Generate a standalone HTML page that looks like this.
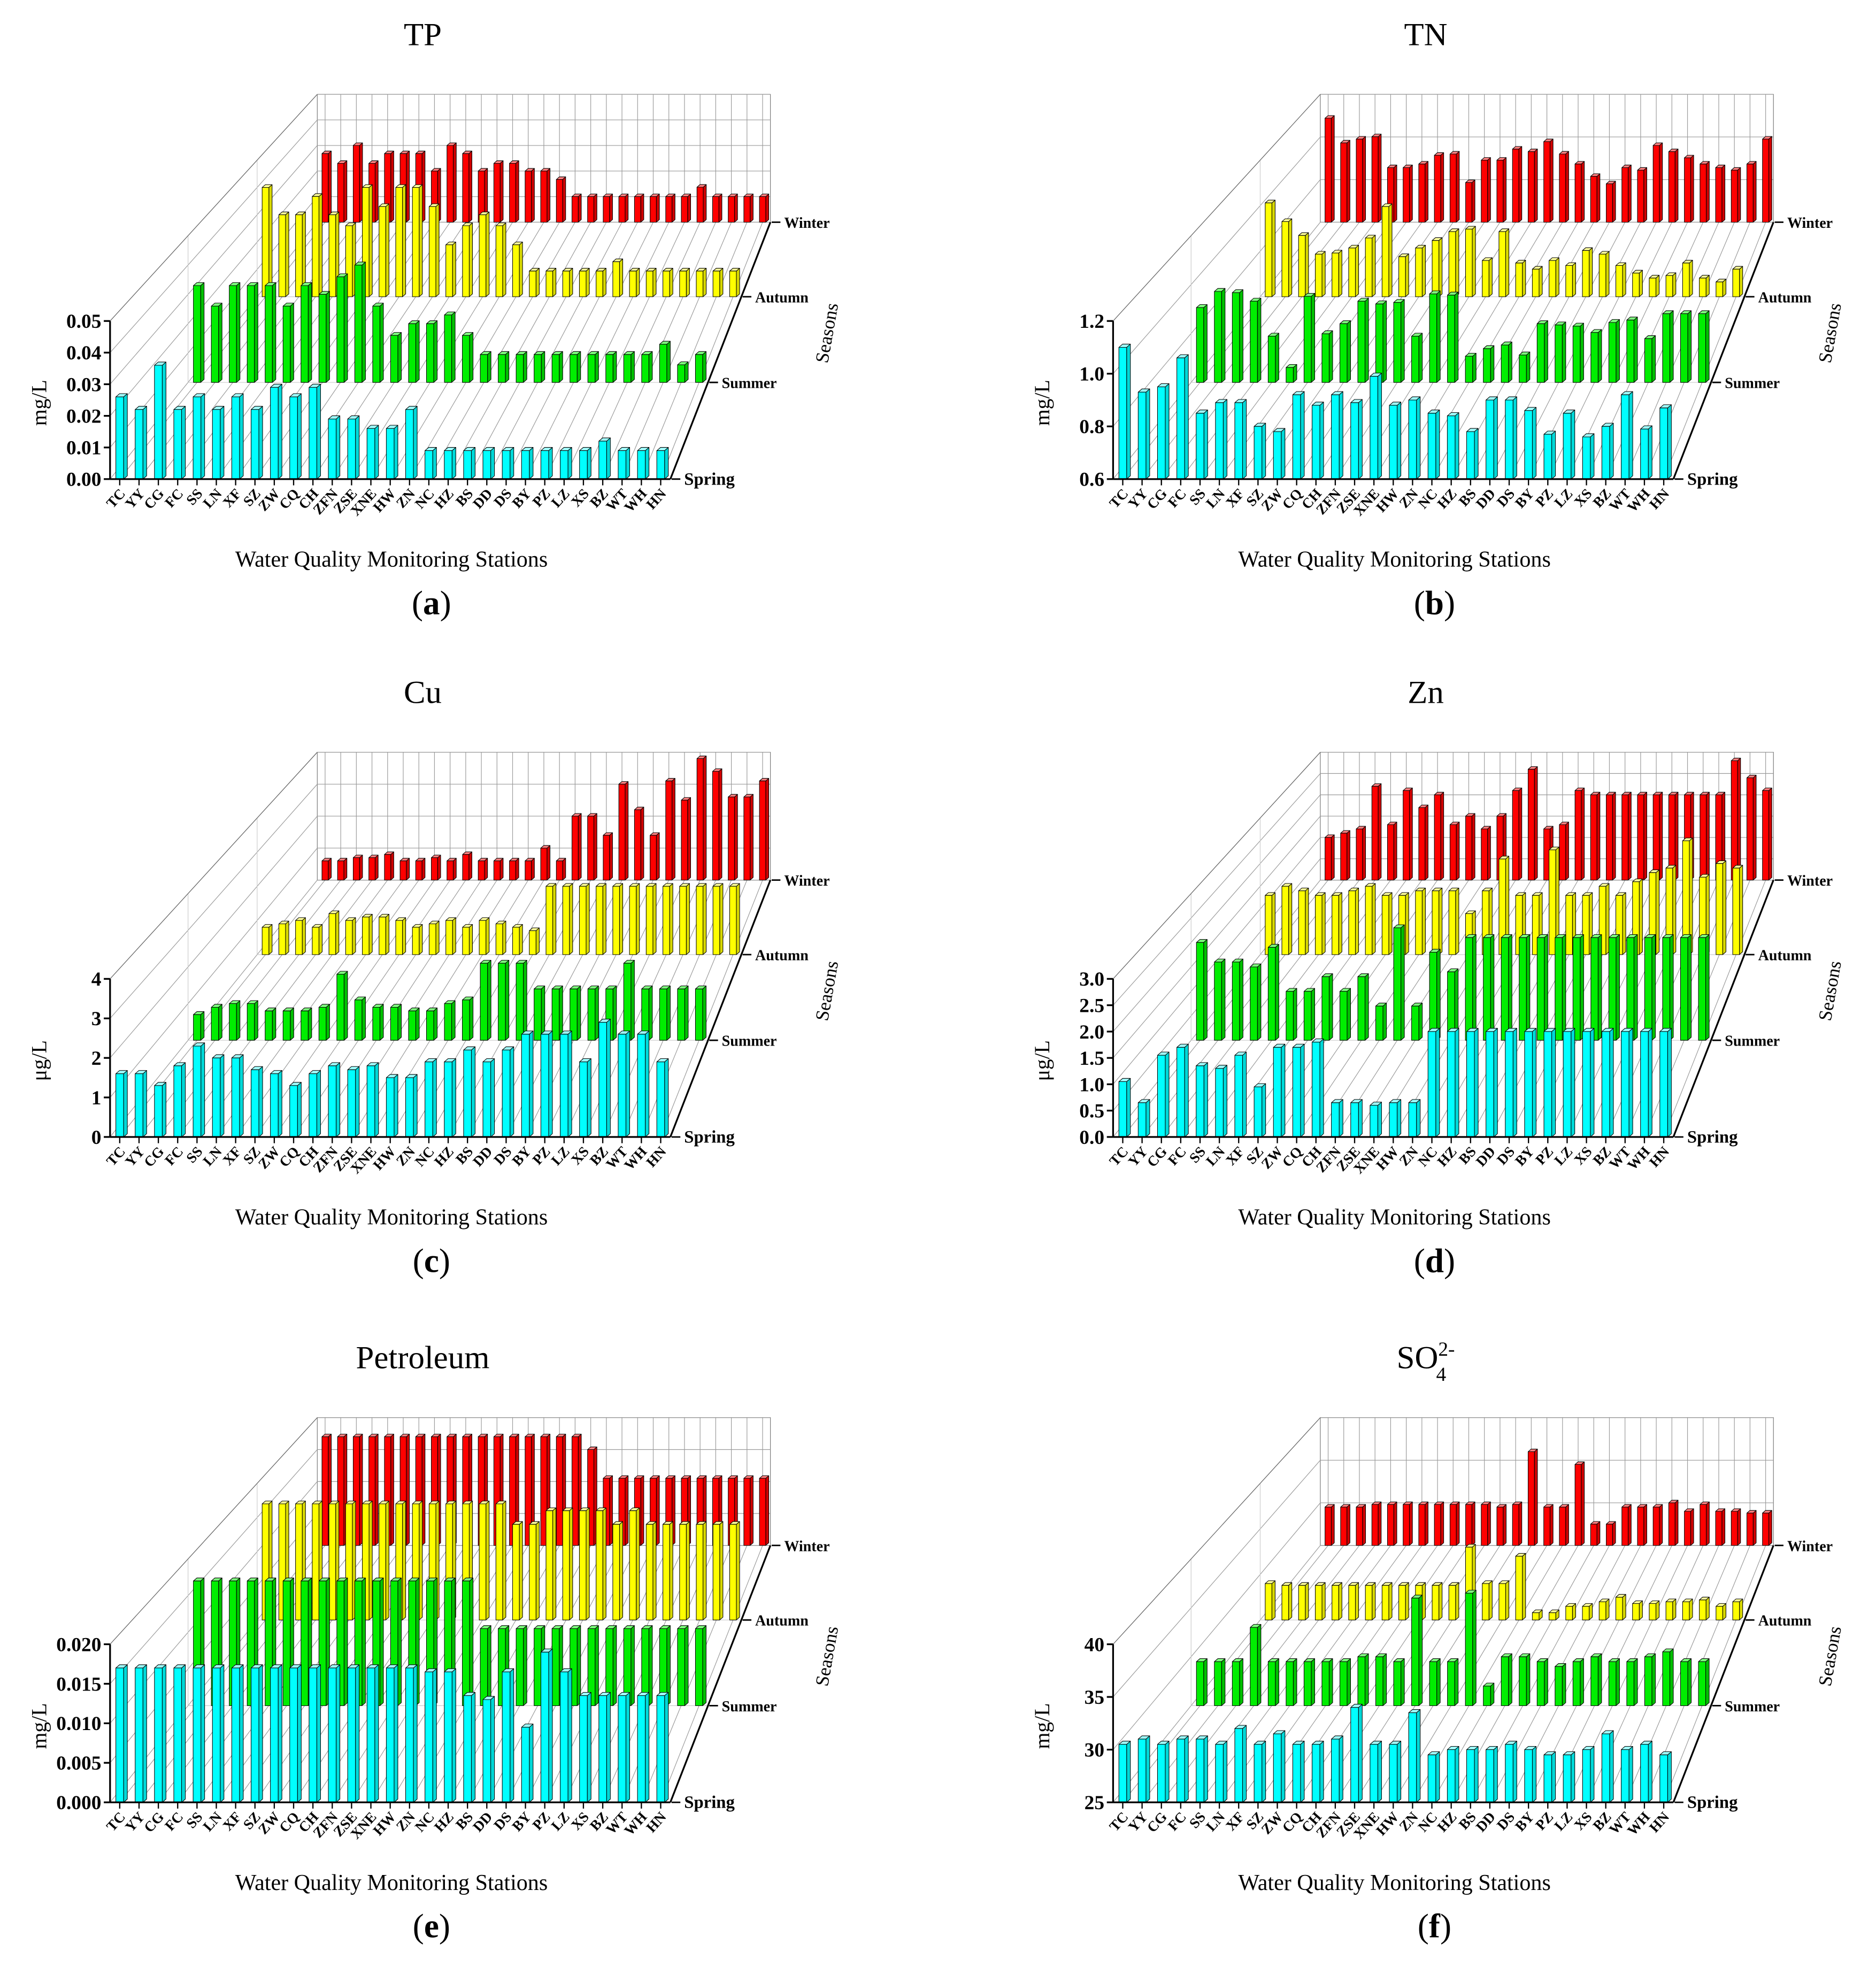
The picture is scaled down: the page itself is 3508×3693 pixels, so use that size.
<!DOCTYPE html>
<html><head><meta charset="utf-8">
<style>
html,body{margin:0;padding:0;background:#fff;}
svg{display:block;}
text{font-family:"Liberation Serif",serif;}
</style></head>
<body>
<svg id="fig" xmlns="http://www.w3.org/2000/svg" width="3508" height="3693" viewBox="0 0 1500 1579"></svg>
<script>
const stations = ["TC","YY","CG","FC","SS","LN","XF","SZ","ZW","CQ","CH","ZFN","ZSE","XNE","HW","ZN","NC","HZ","BS","DD","DS","BY","PZ","LZ","XS","BZ","WT","WH","HN"];
const seasons = ["Spring","Summer","Autumn","Winter"];

const tpSpring = [.026,.022,.036,.022,.026,.022,.026,.022,.029,.026,.029,.019,.019,.016,.016,.022,.009,.009,.009,.009,.009,.009,.009,.009,.009,.012,.009,.009,.009];
const tpSummer = [.033,.026,.033,.033,.033,.026,.033,.030,.036,.040,.026,.016,.020,.020,.023,.016,.0095,.0095,.0095,.0095,.0095,.0095,.0095,.0095,.0095,.0095,.013,.006,.0095];
const tpAutumn = [.040,.030,.030,.0367,.030,.026,.040,.033,.040,.040,.033,.019,.026,.030,.026,.019,.0094,.0094,.0094,.0094,.0094,.0128,.0094,.0094,.0094,.0094,.0094,.0094,.0094];
const tpWinter = [.0268,.023,.030,.023,.0268,.0268,.0268,.020,.030,.0268,.020,.023,.023,.020,.020,.0167,.010,.010,.010,.010,.010,.010,.010,.010,.0137,.010,.010,.010,.010];

const tnSpring = [1.10,0.93,0.95,1.06,0.85,0.89,0.89,0.80,0.78,0.92,0.88,0.92,0.89,0.99,0.88,0.90,0.85,0.84,0.78,0.90,0.90,0.86,0.77,0.85,0.76,0.80,0.92,0.79,0.87];
const tnSummer = [0.906,0.972,0.967,0.932,0.789,0.661,0.952,0.799,0.840,0.932,0.921,0.927,0.789,0.962,0.957,0.707,0.738,0.753,0.712,0.840,0.835,0.830,0.804,0.845,0.855,0.779,0.881,0.881,0.881];
const tnAutumn = [1.012,0.930,0.869,0.787,0.792,0.814,0.858,0.996,0.776,0.814,0.847,0.886,0.897,0.759,0.886,0.748,0.721,0.759,0.737,0.803,0.787,0.737,0.704,0.682,0.693,0.748,0.682,0.665,0.721];
const tnWinter = [1.088,0.972,0.990,1.001,0.856,0.856,0.873,0.914,0.920,0.786,0.891,0.891,0.943,0.931,0.978,0.920,0.873,0.815,0.780,0.856,0.844,0.960,0.931,0.902,0.873,0.856,0.844,0.873,0.990];

const cuSpring = [1.6,1.6,1.3,1.8,2.3,2.0,2.0,1.7,1.6,1.3,1.6,1.8,1.7,1.8,1.5,1.5,1.9,1.9,2.2,1.9,2.2,2.6,2.6,2.6,1.9,2.9,2.6,2.6,1.9];
const cuSummer = [0.7,0.9,1.0,1.0,0.8,0.8,0.8,0.9,1.8,1.1,0.9,0.9,0.8,0.8,1.0,1.1,2.1,2.1,2.1,1.4,1.4,1.4,1.4,1.4,2.1,1.4,1.4,1.4,1.4];
const cuAutumn = [0.8,0.9,1.0,0.8,1.2,1.0,1.1,1.1,1.0,0.8,0.9,1.0,0.8,1.0,0.9,0.8,0.7,2.0,2.0,2.0,2.0,2.0,2.0,2.0,2.0,2.0,2.0,2.0,2.0];
const cuWinter = [0.6,0.6,0.7,0.7,0.8,0.6,0.6,0.7,0.6,0.8,0.6,0.6,0.6,0.6,1.0,0.6,2.0,2.0,1.4,3.0,2.2,1.4,3.1,2.5,3.8,3.4,2.6,2.6,3.1];

const znSpring = [1.05,0.65,1.55,1.7,1.35,1.3,1.55,0.95,1.7,1.7,1.8,0.65,0.65,0.6,0.65,0.65,2.0,2.0,2.0,2.0,2.0,2.0,2.0,2.0,2.0,2.0,2.0,2.0,2.0];
const znSummer = [2.0,1.6,1.6,1.5,1.9,1.0,1.0,1.3,1.0,1.3,0.7,2.3,0.7,1.8,1.4,2.1,2.1,2.1,2.1,2.1,2.1,2.1,2.1,2.1,2.1,2.1,2.1,2.1,2.1];
const znAutumn = [1.3,1.5,1.4,1.3,1.3,1.4,1.5,1.3,1.3,1.4,1.4,1.4,0.9,1.4,2.1,1.3,1.3,2.3,1.3,1.3,1.5,1.3,1.6,1.8,1.9,2.5,1.7,2.0,1.9];
const znWinter = [1.0,1.1,1.2,2.2,1.3,2.1,1.7,2.0,1.3,1.5,1.2,1.5,2.1,2.6,1.2,1.3,2.1,2.0,2.0,2.0,2.0,2.0,2.0,2.0,2.0,2.0,2.8,2.4,2.1];

const peSpring = [.017,.017,.017,.017,.017,.017,.017,.017,.017,.017,.017,.017,.017,.017,.017,.017,.0165,.0165,.0135,.013,.0165,.0095,.019,.0165,.0135,.0135,.0135,.0135,.0135];
const peSummer = [.017,.017,.017,.017,.017,.017,.017,.017,.017,.017,.017,.017,.017,.017,.017,.017,.0105,.0105,.0105,.0105,.0105,.0105,.0105,.0105,.0105,.0105,.0105,.0105,.0105];
const peAutumn = [.017,.017,.017,.017,.017,.017,.017,.017,.017,.017,.017,.017,.017,.017,.017,.014,.014,.016,.016,.016,.016,.014,.016,.014,.014,.014,.014,.014,.014];
const peWinter = [.017,.017,.017,.017,.017,.017,.017,.017,.017,.017,.017,.017,.017,.017,.017,.017,.017,.015,.0105,.0105,.0105,.0105,.0105,.0105,.0105,.0105,.0105,.0105,.0105];

const soSpring = [30.5,31,30.5,31,31,30.5,32,30.5,31.5,30.5,30.5,31,34,30.5,30.5,33.5,29.5,30,30,30,30.5,30,29.5,29.5,30,31.5,30,30.5,29.5];
const soSummer = [29.5,29.5,29.5,33,29.5,29.5,29.5,29.5,29.5,30,30,29.5,36,29.5,29.5,36.5,27,30,30,29.5,29,29.5,30,29.5,29.5,30,30.5,29.5,29.5];
const soAutumn = [29,28.8,28.8,28.8,28.8,28.8,28.8,28.8,28.8,28.8,28.8,28.8,33,29,29,32,25.8,25.8,26.5,26.5,27,27.5,26.8,26.8,27,27,27.2,26.5,27];
const soWinter = [29.5,29.5,29.5,29.8,29.8,29.8,29.8,29.8,29.8,29.8,29.8,29.5,29.8,36,29.5,29.5,34.5,27.5,27.5,29.5,29.5,29.5,30,29,29.8,29,29,28.8,28.8];

const tpTicks = [0,0.01,0.02,0.03,0.04,0.05];
const tpTickLabels = ["0.00","0.01","0.02","0.03","0.04","0.05"];
const tnTicks = [0.6,0.8,1.0,1.2];
const tnTickLabels = ["0.6","0.8","1.0","1.2"];
const cuTicks = [0,1,2,3,4];
const cuTickLabels = ["0","1","2","3","4"];
const znTicks = [0,0.5,1,1.5,2,2.5,3];
const znTickLabels = ["0.0","0.5","1.0","1.5","2.0","2.5","3.0"];
const peTicks = [0,0.005,0.01,0.015,0.02];
const peTickLabels = ["0.000","0.005","0.010","0.015","0.020"];
const soTicks = [25,30,35,40];
const soTickLabels = ["25","30","35","40"];

const NS = "http://www.w3.org/2000/svg";
const svg = document.getElementById('fig');
function mk(tag, attrs, parent){
  const e = document.createElementNS(NS, tag);
  for (const k in attrs) e.setAttribute(k, attrs[k]);
  (parent||svg).appendChild(e);
  return e;
}
const ROWY = [383,305.7,237.2,177.6];
const COLORS = [["#00ffff","#00d8d8","#9ffcfc"],["#00ee00","#00c000","#80ff80"],["#ffff00","#d8d800","#ffff9a"],["#ff0000","#d00000","#ff8080"]];
function rowGeom(y0){
  const x0 = 88 + (383-y0)*0.8067;
  const x1 = 536 + (383-y0)*0.3895;
  return {x0:x0, x1:x1, s:(x1-x0)/448, y0:y0};
}
function panel(dx, dy, key, title, ylab, series, ticks, tickLabels, letter, isSO4){
  const g = mk('g', {transform:'translate('+dx+','+dy+')'});
  
  
  const ymin = ticks[0], ymax = ticks[ticks.length-1];
  const H = 126.4;
  const n = stations.length;
  const back = rowGeom(ROWY[3]), front = rowGeom(ROWY[0]);
  const yv = (r, v) => r.y0 - (v-ymin)/(ymax-ymin)*H*r.s;
  const xi = (r, i) => r.x0 + (i+0.5)/n*(r.x1-r.x0);
  const grid = mk('g', {stroke:'#9a9a9a','stroke-width':'0.5',fill:'none'}, g);
  
  
  const topB = yv(back, ymax);
  mk('rect', {x:back.x0, y:topB, width:back.x1-back.x0, height:back.y0-topB, stroke:'#777'}, grid);
  for (let i=0;i<n;i++){
    mk('line', {x1:xi(back,i), y1:back.y0, x2:xi(back,i), y2:topB}, grid);
    mk('line', {x1:xi(front,i), y1:front.y0, x2:xi(back,i), y2:back.y0}, grid);
  }
  ticks.forEach(t=>{
    mk('line', {x1:back.x0, y1:yv(back,t), x2:back.x1, y2:yv(back,t)}, grid);
    mk('line', {x1:front.x0, y1:yv(front,t), x2:back.x0, y2:yv(back,t)}, grid);
  });
  for (let r=1;r<3;r++){
    const rg = rowGeom(ROWY[r]);
    mk('line', {x1:rg.x0, y1:rg.y0, x2:rg.x0, y2:yv(rg,ymax), stroke:'#ccc'}, grid);
    mk('line', {x1:rg.x0, y1:rg.y0, x2:rg.x1, y2:rg.y0, stroke:'#ccc'}, grid);
  }
  mk('line', {x1:front.x0, y1:yv(front,ymax), x2:back.x0, y2:topB, stroke:'#666'}, grid);
  for (let r=3;r>=0;r--){
    const rg = rowGeom(ROWY[r]);
    const vals = series[r];
    const c = COLORS[r];
    const bg = mk('g', {stroke:'#000','stroke-width':'0.45','stroke-linejoin':'round'}, g);
    
    
    vals.forEach((v,i)=>{
      const x = xi(rg,i), w = 6.2*rg.s, sx = 3*rg.s, sy = -2.6*rg.s;
      const yt = yv(rg,v), yb = rg.y0;
      const b = mk('g', {}, bg);
      
      
      mk('polygon', {points:[x+w/2,yb, x+w/2+sx,yb+sy, x+w/2+sx,yt+sy, x+w/2,yt].join(' '), fill:c[1]}, b);
      mk('polygon', {points:[x-w/2,yt, x-w/2+sx,yt+sy, x+w/2+sx,yt+sy, x+w/2,yt].join(' '), fill:c[2]}, b);
      mk('rect', {x:x-w/2, y:yt, width:w, height:yb-yt, fill:c[0]}, b);
    });
  }
  const ax = mk('g', {stroke:'#000','stroke-width':'1.4',fill:'none'}, g);
  
  
  mk('line', {x1:front.x0, y1:front.y0, x2:front.x0, y2:yv(front,ymax)}, ax);
  mk('line', {x1:front.x0, y1:front.y0, x2:front.x1, y2:front.y0}, ax);
  mk('line', {x1:front.x1, y1:front.y0, x2:back.x1, y2:back.y0}, ax);
  ticks.forEach((t,k)=>{
    const y = yv(front,t);
    mk('line', {x1:front.x0-5, y1:y, x2:front.x0, y2:y}, ax);
    const tl = mk('text', {x:front.x0-7, y:y+5.5, 'text-anchor':'end','font-size':'16','font-weight':'bold',stroke:'none',fill:'#000'}, g);
    tl.textContent = tickLabels[k];
    
    
  });
  stations.forEach((s,i)=>{
    const x = xi(front,i);
    mk('line', {x1:x, y1:front.y0, x2:x, y2:front.y0+5,'stroke-width':'1'}, ax);
    const t = mk('text', {x:0, y:0, 'text-anchor':'end','font-size':'11.5','font-weight':'bold',fill:'#000',transform:'translate('+(x+5)+','+(front.y0+12)+') rotate(-48)'}, g);
    t.textContent = s;
    
    
  });
  for (let r=0;r<4;r++){
    const rg = rowGeom(ROWY[r]);
    mk('line', {x1:rg.x1+1, y1:rg.y0, x2:rg.x1+8, y2:rg.y0,'stroke-width':'1.2'}, ax);
    const t = mk('text', {x:rg.x1+11, y:rg.y0+4.5,'font-size':(r==0?'14':'12'),'font-weight':'bold',fill:'#000'}, g);
    t.textContent = seasons[r];
    
    
  }
  const st = mk('text', {x:0,y:0,'text-anchor':'middle','font-size':'15',fill:'#000',transform:'translate(666,267) rotate(-80)'}, g);
  st.textContent = 'Seasons';
  
  
  const yl = mk('text', {x:0,y:0,'text-anchor':'middle','font-size':'17',fill:'#000'
    ,transform:'translate(37,322) rotate(-90)'}, g);
  yl.textContent = ylab;
  
  
  const xl = mk('text', {x:313,y:453,'text-anchor':'middle','font-size':'18',fill:'#000'}, g);
  xl.textContent = 'Water Quality Monitoring Stations';
  
  
  const ti = mk('text', {x:338,y:36,'text-anchor':'middle','font-size':'26',fill:'#000'}, g);
  
  
  if (isSO4){
    ti.textContent = 'SO';
    const sup = mk('tspan', {'font-size':'16', dy:'-10'}, ti); sup.textContent='2-';
    const sub = mk('tspan', {'font-size':'16', dx:'-15', dy:'20'}, ti); sub.textContent='4';
  } else ti.textContent = title;
  const lt = mk('text', {x:345,y:491,'text-anchor':'middle','font-size':'27',fill:'#000'}, g);
  
  
  lt.appendChild(document.createTextNode('('));
  const b = mk('tspan', {'font-weight':'bold'}, lt); b.textContent = letter;
  lt.appendChild(document.createTextNode(')'));
}
panel(0,0,'tp','TP','mg/L',[tpSpring,tpSummer,tpAutumn,tpWinter],tpTicks,tpTickLabels,'a',false);
panel(802,0,'tn','TN','mg/L',[tnSpring,tnSummer,tnAutumn,tnWinter],tnTicks,tnTickLabels,'b',false);
panel(0,526,'cu','Cu','\u03bcg/L',[cuSpring,cuSummer,cuAutumn,cuWinter],cuTicks,cuTickLabels,'c',false);
panel(802,526,'zn','Zn','\u03bcg/L',[znSpring,znSummer,znAutumn,znWinter],znTicks,znTickLabels,'d',false);
panel(0,1058,'pe','Petroleum','mg/L',[peSpring,peSummer,peAutumn,peWinter],peTicks,peTickLabels,'e',false);
panel(802,1058,'so4','SO4','mg/L',[soSpring,soSummer,soAutumn,soWinter],soTicks,soTickLabels,'f',true);
</script>
</body></html>
